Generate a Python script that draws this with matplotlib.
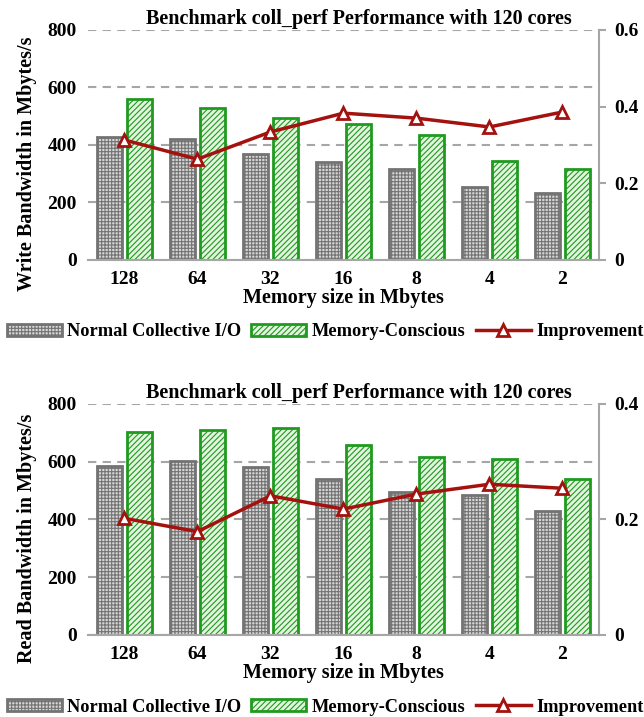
import numpy as np
import matplotlib
matplotlib.use("Agg")
import matplotlib.pyplot as plt
from matplotlib.patches import Patch
from matplotlib.lines import Line2D

# data
memory_sizes = ["128", "64", "32", "16", "8", "4", "2"]

write_normal = [428, 420, 369, 341, 318, 255, 232]
write_mc = [560, 527, 493, 472, 435, 345, 318]
write_improve = [0.313, 0.263, 0.334, 0.383, 0.370, 0.347, 0.386]

read_normal = [585, 604, 580, 541, 496, 485, 429]
read_mc = [704, 710, 716, 657, 615, 610, 540]
read_improve = [0.202, 0.179, 0.241, 0.218, 0.244, 0.261, 0.254]

left_ticks = [0, 200, 400, 600, 800]
write_right_ticks = [0, 0.2, 0.4, 0.6]
read_right_ticks = [0, 0.2, 0.4]

title = "Benchmark coll_perf Performance with 120 cores"

plt.rcParams['font.family'] = ['Liberation Serif', 'DejaVu Serif']
plt.rcParams['font.weight'] = 'bold'
plt.rcParams['hatch.linewidth'] = 0.8

GRAY = '#737373'
GREEN = '#1f9a1f'
RED = '#a3120e'
AXGRAY = '#a6a6a6'
GRAY_FACE = '#d6d6d6'
GREEN_FACE = '#e3f4df'


def draw_panel(fig, rect, normal, mc, improve, right_ticks, ylabel):
    ax = fig.add_axes(rect)
    x = np.arange(len(memory_sizes))
    ax.bar(x - 0.21, normal, width=0.34, facecolor=GRAY_FACE, edgecolor=GRAY,
           hatch='+++++', linewidth=2, zorder=2)
    ax.bar(x + 0.21, mc, width=0.34, facecolor=GREEN_FACE, edgecolor=GREEN,
           hatch='//////', linewidth=2, zorder=2)

    ax.set_xlim(-0.5, len(memory_sizes) - 0.5)
    ax.set_ylim(0, 800)
    ax.set_yticks(left_ticks)
    ax.set_xticks(x)
    ax.set_xticklabels(memory_sizes)
    ax.yaxis.grid(True, color=AXGRAY, linestyle=(0, (4, 3)), linewidth=1.5, zorder=0)
    ax.set_axisbelow(True)
    for s in ['left', 'top', 'right']:
        ax.spines[s].set_visible(False)
    ax.spines['bottom'].set_color(AXGRAY)
    ax.spines['bottom'].set_linewidth(1.5)
    ax.tick_params(axis='both', length=0, labelsize=14, pad=8)
    ax.set_ylabel(ylabel, fontsize=14.5, fontweight='bold')
    ax.yaxis.set_label_coords(-0.10, 0.417)
    ax.set_xlabel("Memory size in Mbytes", fontsize=14.5, fontweight='bold', labelpad=0)
    ax.set_title(title, fontsize=14.5, fontweight='bold', x=0.53, pad=4)

    ax2 = ax.twinx()
    ax2.plot(x, improve, color=RED, linewidth=2.5, marker='^', markersize=9,
             markerfacecolor='white', markeredgecolor=RED, markeredgewidth=2, zorder=5)
    ax2.set_ylim(0, right_ticks[-1])
    ax2.set_yticks(right_ticks)
    ax2.set_yticklabels([f"{t:g}" for t in right_ticks])
    for s in ['left', 'top', 'bottom']:
        ax2.spines[s].set_visible(False)
    ax2.spines['right'].set_color(AXGRAY)
    ax2.spines['right'].set_linewidth(1.5)
    ax2.tick_params(axis='y', length=5, width=1.5, color=AXGRAY, labelsize=14, pad=6)
    return ax


def legend_handles():
    return [
        Patch(facecolor=GRAY_FACE, edgecolor=GRAY, hatch='+++++', linewidth=2,
              label="Normal Collective I/O"),
        Patch(facecolor=GREEN_FACE, edgecolor=GREEN, hatch='//////', linewidth=2,
              label="Memory-Conscious"),
        Line2D([0], [0], color=RED, linewidth=2.5, marker='^', markersize=9,
               markerfacecolor='white', markeredgecolor=RED, markeredgewidth=2,
               label="Improvement"),
    ]


fig = plt.figure(figsize=(6.44, 7.17), dpi=100)

draw_panel(fig, [0.1366, 0.6374, 0.7935, 0.3208], write_normal, write_mc,
           write_improve, write_right_ticks, "Write Bandwidth in Mbytes/s")
draw_panel(fig, [0.1366, 0.1144, 0.7935, 0.3222], read_normal, read_mc,
           read_improve, read_right_ticks, "Read Bandwidth in Mbytes/s")

for ypos in [1 - 332 / 717, 1 - 707 / 717]:
    fig.legend(handles=legend_handles(), loc='center', bbox_to_anchor=(0.505, ypos),
               ncol=3, frameon=False, fontsize=13.2, handlelength=3.0,
               handleheight=0.6, handletextpad=0.3, columnspacing=0.55,
               borderpad=0, borderaxespad=0)

fig.savefig("out.png", dpi=100)
